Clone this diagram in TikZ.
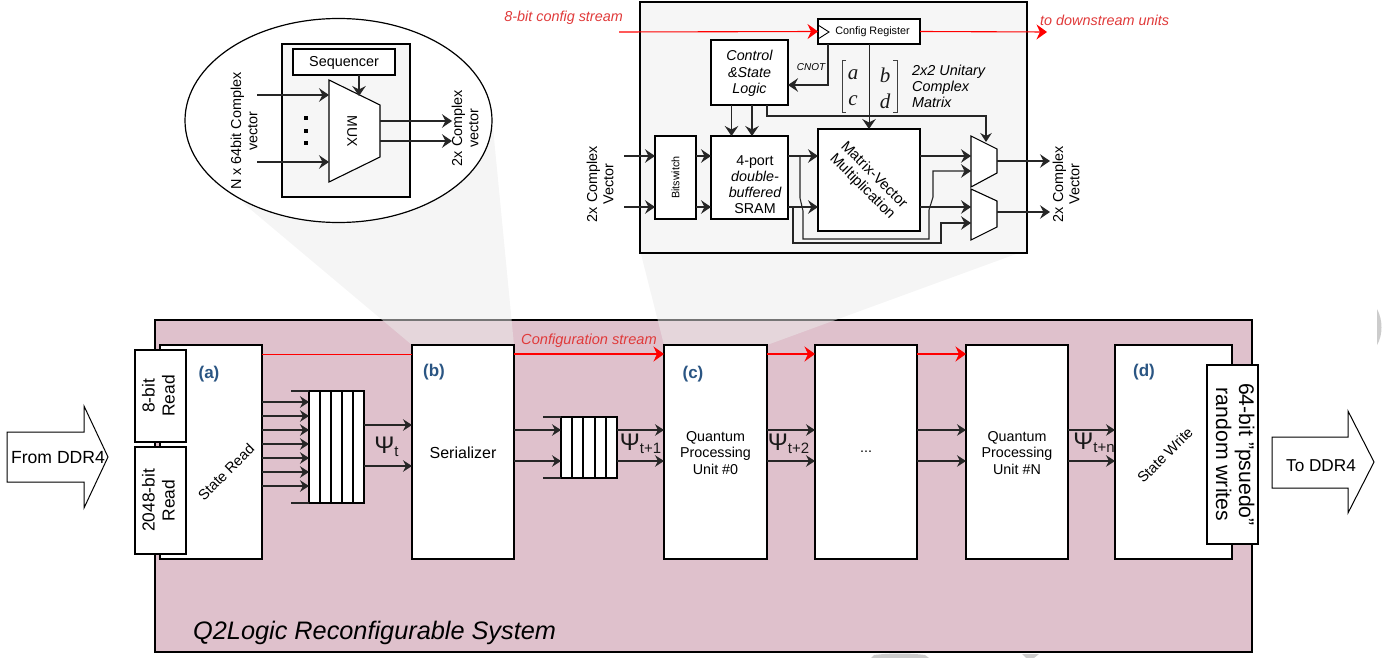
\documentclass[tikz,border=0pt]{standalone}
\usepackage{fontspec}
\setmainfont{Liberation Sans}
\newfontfamily\serifm{Liberation Serif}
\usetikzlibrary{arrows.meta,shapes.geometric}
\definecolor{pinkbg}{HTML}{DFC1CC}
\definecolor{panelbg}{HTML}{F6F6F6}
\definecolor{beamc}{HTML}{EBEBEB}
\definecolor{tagblue}{HTML}{2A5583}
\definecolor{redlab}{HTML}{E03A3A}
\newcommand\fs[2]{\fontsize{#1}{#2}\selectfont}
\newcommand\bx[7][]{%
  \pgfmathsetmacro\bxcx{(#3+#5)/2}\pgfmathsetmacro\bxcy{(#4+#6)/2}%
  \pgfmathsetmacro\bxw{#5-#3}\pgfmathsetmacro\bxh{#6-#4}%
  \node[blockbox,minimum width=\bxw pt,minimum height=\bxh pt,#1] (#2) at (\bxcx,\bxcy) {#7};}
\newcommand\psilab[4]{\node[psilabel] (#1) at (#2,#3) {{\fs{24}{24}Ψ}\raisebox{-3pt}{\fs{15}{15}#4}};}
\tikzset{
  blockbox/.style={draw=black,fill=white,line width=1.3pt,inner sep=0pt,outer sep=0pt,align=center,font=\fs{14.3}{16.2}},
  sig/.style={line width=1.1pt,draw=black!85,-{Stealth[length=10pt,width=13.5pt,inset=3.5pt]}},
  sigsmall/.style={line width=1.1pt,draw=black!85,-{Stealth[length=9pt,width=11.5pt,inset=3pt]}},
  plain/.style={line width=1.1pt,draw=black!85},
  redsig/.style={line width=1.1pt,draw=red,-{Stealth[length=10.5pt,width=15pt,inset=3.5pt,fill=red]}},
  redplain/.style={line width=1pt,draw=red},
  beam/.style={fill=beamc,fill opacity=0.5,draw=none},
  tag/.style={text=tagblue,font=\bfseries\fs{17}{17},inner sep=0pt},
  psilabel/.style={inner sep=0pt,text=black!90},
  txt/.style={inner sep=0pt,align=center,font=\fs{14.4}{16.2}},
  vlabel/.style={txt,rotate=90},
  bigarrow/.style={draw=black,fill=white,line width=1pt},
  mtx/.style={inner sep=0pt,font=\serifm\itshape\fs{21}{21},text=black!90},
  brk/.style={draw=black!75,line width=1pt},
}
\begin{document}
\begin{tikzpicture}[x=1pt,y=-1pt]
\useasboundingbox (0,0) rectangle (1391,658);
% stray marks at the picture's edge
\fill[black!20] (1377,309) .. controls (1383,320) and (1383,335) .. (1377,345) -- cycle;
\fill[black!20] (871,658) -- (874,655) .. controls (890,653) and (910,653) .. (925,655) -- (929,658) -- cycle;
\fill[black!20] (1022,654) -- (1039,654) -- (1034,658) -- (1026,658) -- cycle;
% main system
\bx[fill=pinkbg,line width=2.6pt]{sys}{155}{320}{1252}{652}{}
% call-out beams
\fill[beam] (243,203) -- (412,345) -- (514,345) -- (493,128) -- cycle;
\fill[beam] (640,250) -- (664,345) -- (767,345) -- (1027,250) -- cycle;
% ---------- left inset ----------
\node[draw=black,fill=white,ellipse,line width=1.2pt,minimum width=307pt,minimum height=204pt,inner sep=0pt] (lens) at (338.5,120.5) {};
\bx[fill=panelbg,line width=1.4pt]{serbox}{282}{44}{410}{197}{}
\bx{seq}{293}{49}{395}{75}{}
\node[txt] (seqt) at (344,62.5) {Sequencer};
\node[inner sep=0pt,outer sep=0pt,minimum width=51pt,minimum height=102pt] (mux) at (354.5,131) {};
\draw[fill=white,line width=1.1pt] (329,80) -- (380,105) -- (380,157) -- (329,182) -- cycle;
\node[txt,rotate=-90,font=\fs{14}{14}] (muxt) at (352,131) {MUX};
\coordinate (muxtop) at (359,96);
\coordinate (lin) at (257,95);
\coordinate (lout) at (452,121);
\draw[sig] (seq.south -| muxtop) -- (muxtop);
\foreach \y in {95,162} \draw[sig] (lin |- 0,\y) -- (mux.west |- 0,\y);
\foreach \y in {121,141} \draw[sig] (mux.east |- 0,\y) -- (lout |- 0,\y);
\foreach \y [count=\i] in {118,131,143} \node[fill=black,inner sep=0pt,minimum size=4.5pt] (dot\i) at (306,\y) {};
\node[vlabel] (nlab) at (244,131) {N x 64bit Complex\\vector};
\node[vlabel] (twolab) at (465,128) {2x Complex\\vector};
% ---------- right inset ----------
\bx[fill=panelbg,line width=1.6pt]{panel}{640}{2}{1027}{253}{}
\bx[font=\fs{10.8}{12}]{cfg}{818}{19}{920}{44}{\hspace*{7pt}Config Register}
\draw[line width=0.9pt] (818,25) -- (829,32) -- (818,39);
\coordinate (cfgin) at (619,32);
\coordinate (cfgout) at (1047,32);
\draw[redsig] (cfgin) -- (cfg.west);
\draw[redsig] (cfg.east) -- (cfgout);
\node[txt,text=redlab,font=\itshape\fs{14.4}{16},anchor=east] (cfgl) at (623,18) {8-bit config stream};
\node[txt,text=redlab,font=\itshape\fs{14.4}{16},anchor=west] (dnl) at (1040,20) {to downstream units};
\bx{ctl}{711}{40}{788}{105}{}
\node[txt,font=\itshape\fs{14.3}{16.4}] (ctlt) at (749.5,73.5) {Control\\\&State\\Logic};
\bx{sram}{711}{136}{788}{219}{}
\node[txt,font=\fs{14.3}{16}] (sramt) at (755,185) {4-port\\\itshape double-\\\itshape buffered\\SRAM};
\bx[font=\fs{10.8}{12}]{bsw}{655}{136}{696}{219}{\rotatebox{90}{Bitswitch}}
\bx{mv}{818}{129}{920}{231}{}
\node[txt,rotate=-45,font=\fs{14.8}{16.4}] (mvt) at (868,181) {Matrix-Vector\\Multiplication};
% 2x2 mux pair
\node[inner sep=0pt,outer sep=0pt,minimum width=26pt,minimum height=51pt] (m1) at (984,161.5) {};
\node[inner sep=0pt,outer sep=0pt,minimum width=26pt,minimum height=51pt] (m2) at (984,214.5) {};
% CNOT and config to matrix
\coordinate (cnotx) at (828,85);
\draw[sig] (cnotx |- cfg.south) -- (cnotx) -- (ctl.east |- cnotx);
\node[txt,font=\itshape\fs{10}{12}] (cnotl) at (811,67) {CNOT};
\coordinate (mx) at (869,90);
\draw[sig,line width=1pt] (cfg.south -| mx) -- (mv.north -| mx);
\draw[brk] (846,61) -- (842,61) -- (842,113) -- (846,113);
\draw[brk] (893,61) -- (897,61) -- (897,113) -- (893,113);
\node[mtx] (ma) at (853,75) {a};
\node[mtx] (mb) at (885,75) {b};
\node[mtx] (mc) at (853,101) {c};
\node[mtx] (md) at (885,101) {d};
\node[txt,align=left,anchor=west,font=\itshape\fs{14.4}{16}] (unit) at (912,86) {2x2 Unitary\\Complex\\Matrix};
% control signals
\coordinate (selturn) at (986,116);
\coordinate (seltip) at (986,142);
\draw[sigsmall] (767,105) -- (767,116) -- (selturn) -- (seltip);
\foreach \x in {731.5,752} \draw[sig] (ctl.south -| \x,0) -- (sram.north -| \x,0);
% datapath
\coordinate (pin) at (624,156);
\foreach \y in {156,207} {
  \draw[sig] (pin |- 0,\y) -- (bsw.west |- 0,\y);
  \draw[sig] (bsw.east |- 0,\y) -- (sram.west |- 0,\y);
  \draw[sig] (sram.east |- 0,\y) -- (mv.west |- 0,\y);
}
\draw[sig] (mv.east |- 0,156) -- (m1.west |- 0,156);
\draw[sig] (mv.east |- 0,207) -- (m2.west |- 0,207);
\draw[sig] (800,156) -- (800,198) -- (803,211) -- (803,239) -- (929,239) -- (929,210) -- (933,197) -- (933,171) -- (m1.west |- 0,171);
\draw[sig] (793,207) -- (793,243) -- (941,243) -- (941,223) -- (m2.west |- 0,223);
\draw[fill=white,line width=1.1pt] (971,136) -- (997,149) -- (997,173) -- (971,187) -- cycle;
\draw[fill=white,line width=1.1pt] (971,189) -- (997,201) -- (997,227) -- (971,240) -- cycle;
\coordinate (pout) at (1050,161);
\draw[sig] (m1.east |- pout) -- (pout);
\draw[sig] (m2.east |- 0,212) -- (pout |- 0,212);
\node[vlabel] (pl) at (600,184) {2x Complex\\Vector};
\node[vlabel] (pr) at (1066,184) {2x Complex\\Vector};
% ---------- main row ----------
\coordinate (redy) at (0,354);
\node[txt,text=redlab,font=\itshape\fs{14.6}{16}] (cfgs) at (589,341) {Configuration stream};
\bx{sread}{160}{345}{262}{559}{}
\node[txt,rotate=45,font=\fs{14.5}{16}] (sreadt) at (226,472) {State Read};
\node[tag] (la) at (209,374.5) {(a)};
\bx[font=\fs{17.4}{21}]{r8}{135}{350}{186}{442}{\rotatebox{90}{\begin{tabular}{@{}c@{}}8-bit\\[-1pt]Read\end{tabular}}}
\bx[font=\fs{17.4}{21}]{r2k}{135}{447}{186}{554}{\rotatebox{90}{\begin{tabular}{@{}c@{}}2048-bit\\[-1pt]Read\end{tabular}}}
\bx{ser}{412}{345}{514}{559}{}
\node[txt,font=\fs{16}{16}] (sert) at (463,453) {Serializer};
\node[tag] (lb) at (434,372.5) {(b)};
\bx{qpu}{664}{345}{767}{559}{}
\node[txt,font=\fs{14.3}{16.2}] (qput) at (715.5,453) {Quantum\\Processing\\Unit \#0};
\node[tag] (lc) at (693,374.5) {(c)};
\bx{dots}{815}{345}{917}{559}{...}
\bx{qpun}{966}{345}{1068}{559}{}
\node[txt,font=\fs{14.3}{16.2}] (qpunt) at (1017,453) {Quantum\\Processing\\Unit \#N};
\bx{swrite}{1115}{345}{1232}{559}{}
\node[txt,rotate=45,font=\fs{14.5}{16}] (swt) at (1165,455) {State Write};
\node[tag] (ld) at (1144,372.5) {(d)};
\bx[font=\fs{21.2}{24}]{w64}{1207}{365}{1258}{544}{\rotatebox{-90}{\begin{tabular}{@{}c@{}}64-bit ”psuedo”\\[-1pt]random writes\end{tabular}}}
\draw[redplain] (sread.east |- redy) -- (ser.west |- redy);
\draw[redsig] (ser.east |- redy) -- (qpu.west |- redy);
\draw[redsig] (qpu.east |- redy) -- (dots.west |- redy);
\draw[redsig] (dots.east |- redy) -- (qpun.west |- redy);
% queues
\bx{q1}{309}{391}{364}{503}{}
\foreach \x [count=\i] in {320,331,342,353} \draw[line width=1.2pt] (\x,0 |- q1.north) -- (\x,0 |- q1.south);
\coordinate (q1lead) at (291,0);
\draw[plain] (q1lead |- q1.north) -- (q1.north west);
\draw[plain] (q1lead |- q1.south) -- (q1.south west);
\bx{q2}{561}{417}{617}{478}{}
\foreach \x [count=\i] in {572,583,595,606} \draw[line width=1.2pt] (\x,0 |- q2.north) -- (\x,0 |- q2.south);
\coordinate (q2lead) at (543,0);
\draw[plain] (q2lead |- q2.north) -- (q2.north west);
\draw[plain] (q2lead |- q2.south) -- (q2.south west);
\foreach \y in {402,416,430,444,458,472,486} \draw[sigsmall] (sread.east |- 0,\y) -- (q1.west |- 0,\y);
\foreach \y in {425,466} \draw[sigsmall] (q1.east |- 0,\y) -- (ser.west |- 0,\y);
\foreach \y in {430,461} {
  \draw[sigsmall] (ser.east |- 0,\y) -- (q2.west |- 0,\y);
  \draw[sigsmall] (q2.east |- 0,\y) -- (qpu.west |- 0,\y);
  \draw[sigsmall] (qpu.east |- 0,\y) -- (dots.west |- 0,\y);
  \draw[sigsmall] (dots.east |- 0,\y) -- (qpun.west |- 0,\y);
  \draw[sigsmall] (qpun.east |- 0,\y) -- (swrite.west |- 0,\y);
}
\psilab{psi0}{386.5}{447}{t}
\psilab{psi1}{640.5}{444}{t+1}
\psilab{psi2}{788.5}{444}{t+2}
\psilab{psin}{1094}{443}{t+n}
\node[txt,font=\itshape\fs{25.3}{26},anchor=west] (title) at (193,632.5) {Q2Logic Reconfigurable System};
% DDR4 arrows
\draw[bigarrow] (7,432) -- (84,432) -- (84,406) -- (108,457) -- (84,508) -- (84,482) -- (7,482) -- cycle;
\node[txt,font=\fs{17.6}{18}] (fromd) at (58,458) {From DDR4};
\draw[bigarrow] (1272,437) -- (1348,437) -- (1348,411) -- (1374,462) -- (1348,513) -- (1348,488) -- (1272,488) -- cycle;
\node[txt,font=\fs{17.2}{18}] (tod) at (1321,466) {To DDR4};
\end{tikzpicture}
\end{document}
